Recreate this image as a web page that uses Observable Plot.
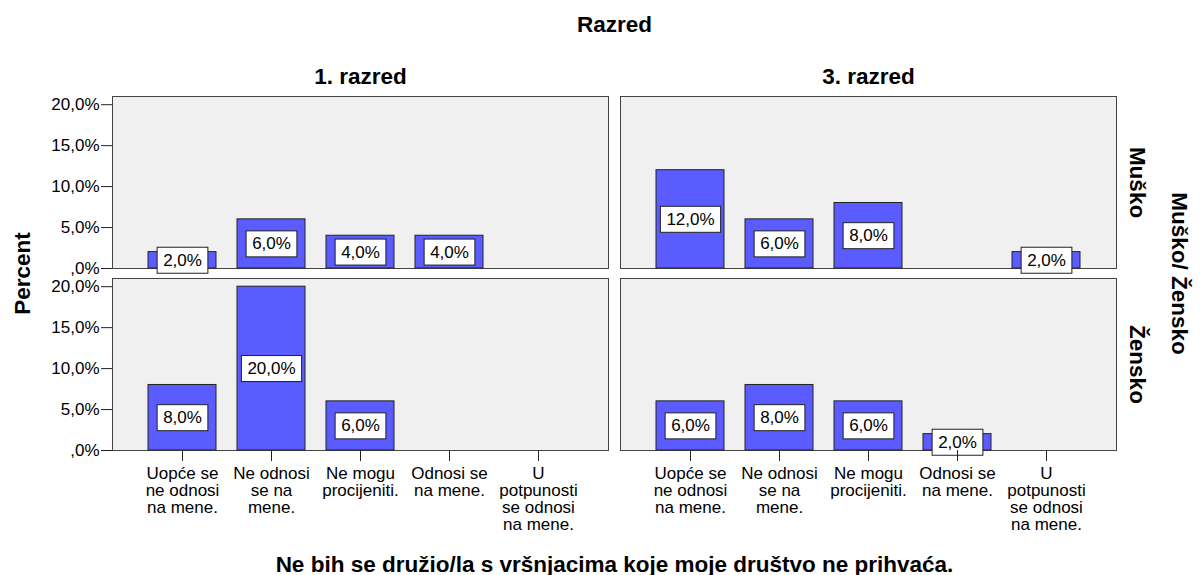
<!DOCTYPE html>
<html><head><meta charset="utf-8">
<script src="https://cdn.jsdelivr.net/npm/d3@7"></script>
<script src="https://cdn.jsdelivr.net/npm/@observablehq/plot@0.6"></script>
<style>
body{margin:0;background:#fff;}
#chart svg{font-family:"Liberation Sans",Arial,sans-serif;}
.hdr text, g.hdr{font-weight:bold;font-size:22.5px;}
</style>
</head><body><div id="chart"></div>
<script>
const categories = ["Uopće se\nne odnosi\nna mene.", "Ne odnosi\nse na\nmene.", "Ne mogu\nprocijeniti.", "Odnosi se\nna mene.", "U\npotpunosti\nse odnosi\nna mene."];
const razredi = ["1. razred", "3. razred"];
const spolovi = ["Muško", "Žensko"];
const musko1 = [2, 6, 4, 4, 0];
const zensko1 = [8, 20, 6, 0, 0];
const musko3 = [12, 6, 8, 0, 2];
const zensko3 = [6, 8, 6, 2, 0];
const yTicks = [0, 5, 10, 15, 20];
const title = "Ne bih se družio/la s vršnjacima koje moje društvo ne prihvaća.";
const yLabel = "Percent";
const fxLabel = "Razred";
const fyLabel = "Muško/ Žensko";

const series = [[razredi[0], spolovi[0], musko1], [razredi[0], spolovi[1], zensko1], [razredi[1], spolovi[0], musko3], [razredi[1], spolovi[1], zensko3]];
const data = [];
for (const [r, s, vals] of series) vals.forEach((v, i) => data.push({razred: r, spol: s, cat: categories[i], value: v}));

const fmt = v => v === 0 ? ",0%" : v.toFixed(1).replace(".", ",") + "%";

const chart = Plot.plot({
  width: 1202, height: 575,
  marginLeft: 112, marginRight: 85, marginTop: 96, marginBottom: 124,
  style: {fontFamily: "Liberation Sans, Arial, sans-serif", fontSize: "17px", color: "#000", background: "#fff", overflow: "visible"},
  fx: {domain: razredi, paddingInner: 0.0236, paddingOuter: 0},
  fy: {domain: spolovi, paddingInner: 0.0548, paddingOuter: 0},
  x: {domain: categories, paddingInner: 0.236, paddingOuter: 0.4045},
  y: {domain: [0, 21]},
  marks: [
    Plot.frame({fill: "#f0f0f0", stroke: "#444"}),
    Plot.barY(data.filter(d => d.value > 0), {fx: "razred", fy: "spol", x: "cat", y: "value", fill: "#5a5cff", stroke: "#222", strokeWidth: 1}),
    Plot.text(data.filter(d => d.value > 0), {fx: "razred", fy: "spol", x: "cat", y: d => d.value / 2, text: d => fmt(d.value), fill: "#000", className: "vlabel"}),
    Plot.axisY({ticks: yTicks, tickFormat: fmt, tickSize: 11, tickPadding: 2, label: null, stroke: "#222"}),
    Plot.axisX({tickSize: 11, tickPadding: 5, label: null, stroke: "#222", lineHeight: 1.0}),
    Plot.axisFx({anchor: "top", tickSize: 0, tickPadding: 13, label: null, className: "hdr"}),
    Plot.axisFy({anchor: "right", tickSize: 0, tickPadding: 29, tickRotate: 90, label: null, className: "hdr"}),
    Plot.text([fxLabel], {frameAnchor: "top", dy: -80, facet: "super", className: "hdr"}),
    Plot.text([title], {frameAnchor: "bottom", dy: 121, facet: "super", className: "hdr"}),
    Plot.text([yLabel], {frameAnchor: "left", textAnchor: "middle", dx: -90, rotate: -90, facet: "super", className: "hdr"}),
    Plot.text([fyLabel], {frameAnchor: "right", textAnchor: "middle", dx: 63, rotate: 90, facet: "super", className: "hdr"})
  ]
});
document.getElementById("chart").appendChild(chart);

// white boxes behind value labels
chart.querySelectorAll("g.vlabel text").forEach(t => {
  const b = t.getBBox();
  const padX = 6, padY = 3.5;
  const r = document.createElementNS("http://www.w3.org/2000/svg", "rect");
  r.setAttribute("x", b.x - padX);
  r.setAttribute("y", b.y - padY);
  r.setAttribute("width", b.width + 2 * padX);
  r.setAttribute("height", b.height + 2 * padY);
  r.setAttribute("fill", "#fff");
  r.setAttribute("stroke", "#222");
  if (t.getAttribute("transform")) r.setAttribute("transform", t.getAttribute("transform"));
  t.parentNode.insertBefore(r, t);
});
</script>
</body></html>
